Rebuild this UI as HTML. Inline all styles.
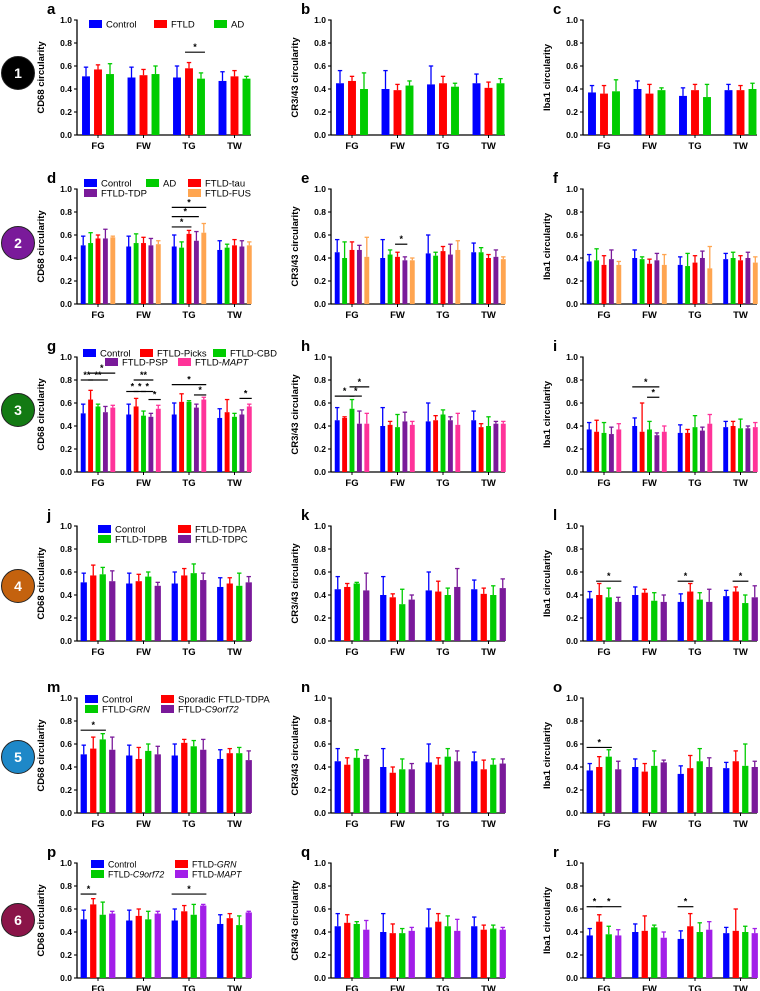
<!DOCTYPE html>
<html><head><meta charset="utf-8"><style>
html,body{margin:0;padding:0;background:#fff;}
svg{display:block;font-family:"Liberation Sans",Arial,sans-serif;}
</style></head><body>
<svg id="fig" width="760" height="991" viewBox="0 0 760 991"></svg>
<script>
// ---- data ----
const categories = ["FG","FW","TG","TW"];
const yTicks = ["0.0","0.2","0.4","0.6","0.8","1.0"];
const yTitles = ["CD68 circularity","CR3/43 circularity","Iba1 circularity"];
const panelLetters = ["a","b","c","d","e","f","g","h","i","j","k","l","m","n","o","p","q","r"];
const rowLabels = ["1","2","3","4","5","6"];

const namesRow1 = ["Control","FTLD","AD"];
const namesRow2 = ["Control","AD","FTLD-tau","FTLD-TDP","FTLD-FUS"];
const namesRow3 = ["Control","FTLD-Picks","FTLD-CBD","FTLD-PSP","FTLD-MAPT"];
const namesRow4 = ["Control","FTLD-TDPA","FTLD-TDPB","FTLD-TDPC"];
const namesRow5 = ["Control","Sporadic FTLD-TDPA","FTLD-GRN","FTLD-C9orf72"];
const namesRow6 = ["Control","FTLD-GRN","FTLD-C9orf72","FTLD-MAPT"];

const meanA = [[.51,.57,.53],[.50,.52,.53],[.50,.58,.49],[.47,.51,.49]];
const sdA   = [[.08,.04,.09],[.09,.05,.07],[.10,.05,.05],[.08,.05,.02]];
const meanB = [[.45,.47,.40],[.40,.39,.43],[.44,.45,.42],[.45,.41,.45]];
const sdB   = [[.11,.04,.14],[.16,.05,.04],[.16,.06,.03],[.08,.05,.04]];
const meanC = [[.37,.36,.38],[.40,.36,.39],[.34,.39,.33],[.39,.39,.40]];
const sdC   = [[.06,.07,.10],[.07,.08,.02],[.07,.05,.11],[.05,.04,.05]];

const meanD = [[.51,.53,.57,.57,.58],[.50,.53,.53,.51,.52],[.50,.49,.61,.55,.62],[.47,.49,.51,.50,.51]];
const sdD   = [[.08,.09,.03,.08,.01],[.09,.08,.05,.06,.03],[.10,.05,.03,.08,.08],[.08,.03,.05,.05,.03]];
const meanE = [[.45,.40,.47,.47,.41],[.40,.43,.41,.38,.38],[.44,.42,.46,.43,.47],[.45,.45,.40,.41,.39]];
const sdE   = [[.11,.14,.07,.04,.17],[.16,.04,.04,.03,.02],[.16,.03,.04,.09,.08],[.08,.04,.03,.06,.02]];
const meanF = [[.37,.38,.34,.39,.34],[.40,.39,.35,.38,.34],[.34,.33,.36,.40,.31],[.39,.40,.38,.40,.36]];
const sdF   = [[.06,.10,.08,.08,.03],[.07,.02,.04,.06,.09],[.07,.11,.06,.06,.19],[.05,.05,.04,.05,.05]];

const meanG = [[.51,.63,.57,.52,.56],[.50,.57,.49,.48,.55],[.50,.61,.61,.56,.63],[.47,.52,.48,.50,.57]];
const sdG   = [[.08,.08,.02,.05,.02],[.09,.07,.04,.03,.03],[.10,.07,.01,.03,.02],[.08,.11,.03,.04,.02]];
const meanH = [[.45,.47,.55,.42,.42],[.40,.41,.39,.44,.41],[.44,.45,.50,.45,.41],[.45,.39,.40,.42,.42]];
const sdH   = [[.11,.01,.08,.11,.09],[.16,.03,.11,.08,.03],[.16,.04,.04,.03,.10],[.08,.03,.08,.02,.02]];
const meanI = [[.37,.35,.34,.33,.37],[.40,.35,.37,.32,.35],[.34,.34,.39,.36,.42],[.39,.40,.38,.38,.39]];
const sdI   = [[.06,.10,.09,.06,.05],[.07,.25,.07,.02,.05],[.07,.03,.10,.03,.08],[.05,.04,.08,.02,.04]];

const meanJ = [[.51,.57,.58,.52],[.50,.52,.56,.48],[.50,.57,.59,.53],[.47,.50,.48,.51]];
const sdJ   = [[.08,.09,.06,.09],[.09,.06,.04,.03],[.10,.06,.08,.06],[.08,.05,.11,.05]];
const meanK = [[.45,.47,.50,.44],[.40,.38,.32,.36],[.44,.43,.40,.47],[.45,.41,.40,.46]];
const sdK   = [[.11,.03,.01,.15],[.16,.03,.13,.04],[.16,.09,.06,.16],[.08,.05,.08,.08]];
const meanL = [[.37,.40,.38,.34],[.40,.42,.35,.34],[.34,.43,.36,.34],[.39,.43,.33,.38]];
const sdL   = [[.06,.10,.08,.04],[.07,.03,.07,.06],[.07,.07,.06,.11],[.05,.04,.07,.10]];

const meanM = [[.51,.56,.64,.55],[.50,.47,.54,.51],[.50,.61,.58,.55],[.47,.52,.52,.46]];
const sdM   = [[.08,.10,.05,.11],[.09,.10,.06,.07],[.10,.03,.05,.09],[.08,.04,.05,.08]];
const meanN = [[.45,.42,.48,.47],[.40,.35,.38,.38],[.44,.42,.49,.45],[.45,.38,.42,.43]];
const sdN   = [[.11,.06,.07,.03],[.16,.05,.09,.05],[.16,.06,.07,.09],[.08,.08,.05,.04]];
const meanO = [[.37,.40,.49,.38],[.40,.36,.41,.44],[.34,.39,.45,.40],[.39,.45,.41,.40]];
const sdO   = [[.06,.09,.06,.07],[.07,.07,.13,.02],[.07,.11,.11,.08],[.05,.09,.19,.05]];

const meanP = [[.51,.64,.55,.56],[.50,.54,.51,.56],[.50,.58,.55,.63],[.47,.52,.46,.57]];
const sdP   = [[.08,.05,.11,.02],[.09,.06,.07,.02],[.10,.05,.09,.01],[.08,.04,.08,.01]];
const meanQ = [[.45,.48,.47,.42],[.40,.39,.39,.41],[.44,.49,.45,.41],[.45,.42,.43,.42]];
const sdQ   = [[.11,.07,.02,.08],[.16,.08,.04,.03],[.16,.07,.09,.10],[.08,.04,.03,.02]];
const meanR = [[.37,.49,.38,.37],[.40,.41,.44,.35],[.34,.45,.40,.42],[.39,.41,.40,.39]];
const sdR   = [[.06,.06,.07,.05],[.07,.13,.02,.05],[.07,.11,.08,.07],[.05,.19,.05,.04]];

const sigA = [[2,1,2,.72,"*"]];
const sigD = [[2,0,2,.67,"*"],[2,0,3,.76,"*"],[2,0,4,.84,"*"]];
const sigE = [[1,2,3,.52,"*"]];
const sigG = [[0,0,1,.80,"**"],[0,1,3,.80,"**"],[0,1,4,.86,"*"],[1,0,1,.70,"*"],[1,1,2,.70,"*"],[1,1,3,.80,"**"],[1,2,3,.70,"*"],[1,3,4,.63,"*"],[2,0,4,.76,"*"],[2,3,4,.67,"*"],[3,3,4,.64,"*"]];
const sigH = [[0,0,2,.66,"*"],[0,2,3,.66,"*"],[0,2,4,.74,"*"]];
const sigI = [[1,0,3,.74,"*"],[1,2,3,.65,"*"]];
const sigL = [[0,1,3,.52,"*"],[2,0,1,.52,"*"],[3,1,2,.52,"*"]];
const sigM = [[0,0,2,.72,"*"]];
const sigO = [[0,0,2,.57,"*"]];
const sigP = [[0,0,1,.73,"*"],[2,0,3,.73,"*"]];
const sigR = [[0,0,1,.62,"*"],[0,1,3,.62,"*"],[2,0,1,.62,"*"]];

const BLUE="#0000ff",RED="#ff0000",GREEN="#00cc00",PURPLE="#7a1a9a",ORANGE="#ffa550",PINK="#ff3399",VIOLET="#a21ee8";
const rowColors=[[BLUE,RED,GREEN],[BLUE,GREEN,RED,PURPLE,ORANGE],[BLUE,RED,GREEN,PURPLE,PINK],[BLUE,RED,GREEN,PURPLE],[BLUE,RED,GREEN,PURPLE],[BLUE,RED,GREEN,VIOLET]];
const rowNames=[namesRow1,namesRow2,namesRow3,namesRow4,namesRow5,namesRow6];
const rowZero=[135,304,472,641,813,978];
const colAxis=[77,331,583];
const circleY=[73,243,410,586,757,920];
const circleFill=["#000000","#7a1a9a","#137a13","#c4620e","#1e88c8","#8a1448"];
const H=115, AW=174;
const panels=[
 [meanA,sdA,sigA],[meanB,sdB,[]],[meanC,sdC,[]],
 [meanD,sdD,sigD],[meanE,sdE,sigE],[meanF,sdF,[]],
 [meanG,sdG,sigG],[meanH,sdH,sigH],[meanI,sdI,sigI],
 [meanJ,sdJ,[]],[meanK,sdK,[]],[meanL,sdL,sigL],
 [meanM,sdM,sigM],[meanN,sdN,[]],[meanO,sdO,sigO],
 [meanP,sdP,sigP],[meanQ,sdQ,[]],[meanR,sdR,sigR]];
const legendLayout=[
 [[0,12,4],[1,77,4],[2,137,4]],
 [[0,7,-6],[1,69,-6],[2,111,-6],[3,7,4],[4,111,4]],
 [[0,6,-4],[1,63,-4],[2,136,-4],[3,28,5],[4,101,5]],
 [[0,21,3],[1,101,3],[2,21,13],[3,101,13]],
 [[0,8,1],[1,84,1],[2,8,11],[3,84,11]],
 [[0,14,1],[1,98,1],[2,14,11],[3,98,11]]];
const legendFont=[9.5,9.5,9.5,9.5,9.5,8.8];
const italicParts={"FTLD-MAPT":["FTLD-","MAPT"],"FTLD-GRN":["FTLD-","GRN"],"FTLD-C9orf72":["FTLD-","C9orf72"]};

const svg=document.getElementById("fig");
const NS="http://www.w3.org/2000/svg";
function mk(tag,attrs,parent){const e=document.createElementNS(NS,tag);for(const k in attrs)e.setAttribute(k,attrs[k]);(parent||svg).appendChild(e);return e;}

rowLabels.forEach((lab,r)=>{
  const g=mk("g",{});
  
  
  mk("circle",{cx:18,cy:circleY[r],r:16.5,fill:circleFill[r],stroke:"#222","stroke-width":1},g);
  const t=mk("text",{x:18,y:circleY[r]+5,"text-anchor":"middle","font-size":14,"font-weight":"bold",fill:"#fff"},g);
  t.textContent=lab;
});

panels.forEach((p,idx)=>{
  const r=Math.floor(idx/3), c=idx%3;
  const [means,sds,sigs]=p;
  const ax=colAxis[c], z=rowZero[r];
  const yv=v=>z-v*H;
  const n=means[0].length;
  const pitch={3:12,4:9.5,5:7.4}[n], bw=pitch*0.66;
  const xg=g=>ax+21+g*45.5;
  const xb=(g,i)=>xg(g)+(i-(n-1)/2)*pitch;
  const colors=rowColors[r];
  const pg=mk("g",{});
  
  
  const L=mk("text",{x:ax-30,y:z-121,"font-size":15,"font-weight":"bold"},pg);
  L.textContent=panelLetters[idx];
  
  
  const yax=mk("g",{},pg);
  
  
  mk("line",{x1:ax,y1:z,x2:ax,y2:yv(1)-0.5,stroke:"#000","stroke-width":1.3},yax);
  yTicks.forEach(t=>{
    const v=parseFloat(t);
    mk("line",{x1:ax-3,y1:yv(v),x2:ax,y2:yv(v),stroke:"#000","stroke-width":1.1},yax);
    const tt=mk("text",{x:ax-5,y:yv(v)+3,"text-anchor":"end","font-size":8.5,"font-weight":"bold"},yax);
    tt.textContent=t;
  });
  const yt=mk("text",{x:0,y:0,"text-anchor":"middle","font-size":9.5,"font-weight":"bold",transform:`translate(${ax-33},${z-H/2}) rotate(-90)`},pg);
  yt.textContent=yTitles[c];
  
  
  const xax=mk("g",{},pg);
  
  
  mk("line",{x1:ax,y1:z,x2:ax+AW,y2:z,stroke:"#000","stroke-width":1.3},xax);
  categories.forEach((cat,g)=>{
    mk("line",{x1:xg(g),y1:z,x2:xg(g),y2:z+3,stroke:"#000","stroke-width":1},xax);
    const ct=mk("text",{x:xg(g),y:z+14,"text-anchor":"middle","font-size":9.5,"font-weight":"bold"},xax);
    ct.textContent=cat;
  });
  means.forEach((row,g)=>{
    row.forEach((m,i)=>{
      const x=xb(g,i), col=colors[i], top=yv(m+sds[g][i]);
      const eb=mk("line",{x1:x,y1:yv(m),x2:x,y2:top,stroke:col,"stroke-width":1.3},pg);
      
      
      mk("line",{x1:x-2.2,y1:top,x2:x+2.2,y2:top,stroke:col,"stroke-width":1.3},pg);
      const b=mk("rect",{x:x-bw/2,y:yv(m),width:bw,height:m*H,fill:col},pg);
      
      
    });
  });
  sigs.forEach(s=>{
    const [g,a,b,v,lab]=s;
    const sg=mk("g",{},pg);
    
    
    const x1=xb(g,a)-bw/2, x2=xb(g,b)+bw/2;
    mk("line",{x1:x1,y1:yv(v),x2:x2,y2:yv(v),stroke:"#000","stroke-width":1.2},sg);
    const st=mk("text",{x:(x1+x2)/2,y:yv(v)-2,"text-anchor":"middle","font-size":9,"font-weight":"bold"},sg);
    st.textContent=lab;
  });
  if(c===0){
    const lg=mk("g",{},pg);
    
    
    const top=yv(1);
    legendLayout[r].forEach(([si,dx,dy])=>{
      const en=mk("g",{},lg);
      
      
      const lx=ax+dx, ly=top+dy;
      mk("rect",{x:lx,y:ly-4,width:13,height:8,fill:colors[si]},en);
      const t=mk("text",{x:lx+17,y:ly+3.5,"font-size":legendFont[r]},en);
      const nm=rowNames[r][si];
      if(italicParts[nm]){
        const s1=mk("tspan",{},t);s1.textContent=italicParts[nm][0];
        const s2=mk("tspan",{"font-style":"italic"},t);s2.textContent=italicParts[nm][1];
      } else t.textContent=nm;
    });
  }
});
</script>
</body></html>
